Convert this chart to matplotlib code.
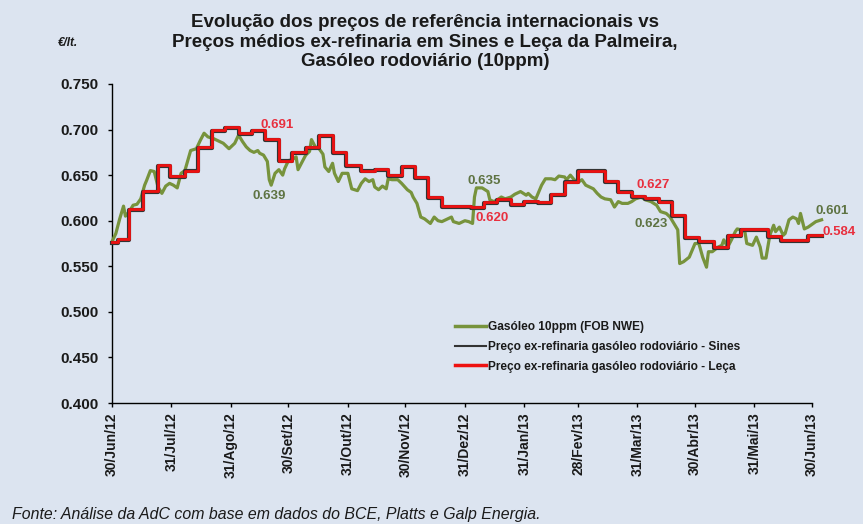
import pandas as pd
import matplotlib
matplotlib.use("Agg")
import matplotlib.pyplot as plt
from matplotlib.lines import Line2D

plt.rcParams["font.family"] = ["Liberation Sans", "DejaVu Sans"]

BG = "#dce4f0"
GREEN = "#77933c"
RED = "#ee1111"
DARK = "#333333"

START = pd.Timestamp("2012-06-30")

# Gasóleo 10ppm (FOB NWE): days after 30/Jun/12, €/lt
green_days = [0, 2, 4, 6, 7, 9, 11, 13, 15, 17, 18, 20, 22, 24, 26, 28, 30, 32, 34, 36,
              38, 41, 44, 46, 48, 50, 53, 56, 58, 61, 62, 64, 66, 68, 70, 72, 74, 76, 77, 79,
              81, 82, 83, 85, 87, 89, 90, 92, 94, 96, 97, 99, 101, 103, 104, 106, 108, 110, 111, 113,
              115, 116, 118, 120, 123, 125, 128, 130, 132, 134, 136, 137, 139, 141, 143, 144, 146, 149, 151, 154,
              156, 157, 159, 161, 163, 166, 168, 170, 172, 175, 177, 178, 181, 184, 186, 188, 189, 190, 193, 196,
              197, 199, 201, 203, 205, 208, 210, 213, 216, 217, 219, 221, 223, 224, 226, 229, 231, 233, 236, 237,
              239, 241, 243, 245, 247, 249, 251, 253, 255, 257, 260, 262, 264, 266, 269, 271, 273, 276, 278, 281,
              284, 286, 289, 291, 293, 295, 296, 298, 301, 304, 306, 308, 310, 311, 313, 316, 318, 319, 321, 323,
              325, 326, 328, 330, 331, 334, 336, 338, 339, 341, 343, 345, 346, 348, 350, 351, 353, 355, 357, 358,
              359, 361, 363, 365, 367, 370]
green_vals = [0.577, 0.586, 0.602, 0.616, 0.605, 0.610, 0.617, 0.618, 0.624, 0.639, 0.644, 0.655, 0.654, 0.637, 0.630, 0.638, 0.641, 0.639, 0.636, 0.652,
              0.655, 0.677, 0.679, 0.688, 0.696, 0.692, 0.690, 0.687, 0.685, 0.679, 0.681, 0.685, 0.694, 0.687, 0.681, 0.677, 0.675, 0.677, 0.674, 0.672,
              0.665, 0.645, 0.639, 0.652, 0.656, 0.650, 0.657, 0.666, 0.667, 0.670, 0.656, 0.664, 0.672, 0.676, 0.689, 0.681, 0.679, 0.673, 0.659, 0.654,
              0.663, 0.652, 0.643, 0.652, 0.652, 0.635, 0.633, 0.641, 0.646, 0.643, 0.645, 0.637, 0.634, 0.638, 0.635, 0.646, 0.645, 0.645, 0.641, 0.634,
              0.631, 0.626, 0.619, 0.604, 0.602, 0.597, 0.604, 0.600, 0.599, 0.602, 0.604, 0.599, 0.597, 0.600, 0.599, 0.597, 0.626, 0.636, 0.636, 0.632,
              0.623, 0.621, 0.623, 0.626, 0.624, 0.626, 0.629, 0.632, 0.628, 0.630, 0.626, 0.624, 0.634, 0.639, 0.646, 0.646, 0.645, 0.649, 0.648, 0.645,
              0.650, 0.645, 0.642, 0.645, 0.639, 0.637, 0.635, 0.630, 0.626, 0.624, 0.623, 0.615, 0.621, 0.619, 0.619, 0.621, 0.624, 0.626, 0.623, 0.621,
              0.617, 0.610, 0.608, 0.604, 0.597, 0.590, 0.553, 0.555, 0.560, 0.575, 0.575, 0.560, 0.549, 0.566, 0.566, 0.571, 0.573, 0.579, 0.571, 0.579,
              0.588, 0.591, 0.590, 0.588, 0.575, 0.573, 0.582, 0.571, 0.559, 0.559, 0.584, 0.595, 0.588, 0.593, 0.584, 0.586, 0.601, 0.604, 0.602, 0.597,
              0.608, 0.591, 0.593, 0.596, 0.599, 0.601]

# weekly ex-refinery prices (value holds from that day on)
step_days = [0, 3, 9, 16, 24, 30, 38, 45, 52, 59, 66, 73, 80, 87, 94, 101, 108, 115, 122, 130,
             137, 144, 151, 158, 165, 172, 187, 194, 201, 208, 215, 222, 229, 236, 243, 257, 264, 271, 278, 285,
             292, 299, 306, 314, 321, 328, 342, 349, 363, 370]
leca_vals = [0.577, 0.580, 0.613, 0.633, 0.661, 0.649, 0.655, 0.681, 0.699, 0.703, 0.696, 0.699, 0.690, 0.666, 0.675, 0.681, 0.694, 0.675, 0.661, 0.655,
             0.657, 0.650, 0.660, 0.648, 0.626, 0.616, 0.615, 0.620, 0.624, 0.618, 0.622, 0.620, 0.629, 0.643, 0.655, 0.644, 0.632, 0.627, 0.625, 0.621,
             0.606, 0.582, 0.578, 0.571, 0.584, 0.591, 0.583, 0.579, 0.584, 0.584]
sines_vals = [0.576, 0.579, 0.612, 0.632, 0.660, 0.648, 0.654, 0.680, 0.698, 0.702, 0.695, 0.698, 0.689, 0.665, 0.674, 0.680, 0.693, 0.674, 0.660, 0.654,
              0.656, 0.649, 0.659, 0.647, 0.625, 0.615, 0.614, 0.619, 0.623, 0.617, 0.621, 0.619, 0.628, 0.642, 0.654, 0.643, 0.631, 0.626, 0.624, 0.620,
              0.605, 0.581, 0.577, 0.570, 0.583, 0.590, 0.582, 0.578, 0.583, 0.583]

tick_dates = ["2012-06-30", "2012-07-31", "2012-08-31", "2012-09-30", "2012-10-31", "2012-11-30", "2012-12-31",
              "2013-01-31", "2013-02-28", "2013-03-31", "2013-04-30", "2013-05-31", "2013-06-30"]
tick_labels = ["30/Jun/12", "31/Jul/12", "31/Ago/12", "30/Set/12", "31/Out/12", "30/Nov/12", "31/Dez/12",
               "31/Jan/13", "28/Fev/13", "31/Mar/13", "30/Abr/13", "31/Mai/13", "30/Jun/13"]

# value labels: (day, y, text, colour key)
labels = [(86, 0.7055, "0.691", "r"), (82, 0.627, "0.639", "g"), (194, 0.644, "0.635", "g"),
          (198, 0.6027, "0.620", "r"), (282, 0.639, "0.627", "r"), (281, 0.596, "0.623", "g"),
          (375.5, 0.611, "0.601", "g"), (379, 0.5874, "0.584", "r")]


def to_dates(days):
    return START + pd.to_timedelta(days, unit="D")


def main():
    fig = plt.figure(figsize=(8.63, 5.24), dpi=100, facecolor=BG)
    ax = fig.add_axes([0.1298, 0.2309, 0.8111, 0.6088])
    ax.set_facecolor(BG)

    gx = to_dates(green_days)
    sx = to_dates(step_days)
    ax.plot(gx, green_vals, color=GREEN, lw=2.3, clip_on=False, zorder=3)
    ax.plot(sx, sines_vals, color=DARK, lw=3.0, drawstyle="steps-post", clip_on=False, zorder=4)
    ax.plot(sx, leca_vals, color=RED, lw=2.0, drawstyle="steps-post", clip_on=False, zorder=5)

    ax.set_xlim(pd.Timestamp(tick_dates[0]), pd.Timestamp(tick_dates[-1]))
    ax.set_ylim(0.4, 0.75)
    ax.set_yticks([0.40, 0.45, 0.50, 0.55, 0.60, 0.65, 0.70, 0.75])
    ax.set_yticklabels([f"{v:.3f}" for v in ax.get_yticks()])
    ax.set_xticks(pd.to_datetime(tick_dates))
    ax.set_xticklabels(tick_labels, rotation=90, ha="center", va="top")

    for s in ["top", "right"]:
        ax.spines[s].set_visible(False)
    for s in ["left", "bottom"]:
        ax.spines[s].set_linewidth(1.0)
        ax.spines[s].set_color("black")
    ax.tick_params(axis="y", direction="out", length=3, width=1, pad=7, labelsize=11)
    ax.tick_params(axis="x", direction="out", length=3, width=1, pad=4, labelsize=10)
    for t in ax.get_xticklabels() + ax.get_yticklabels():
        t.set_fontweight("bold")
        t.set_color("#1a1a1a")

    for d, y, txt, c in labels:
        ax.text(START + pd.Timedelta(days=d), y, txt, ha="center", va="center", fontsize=9.5,
                fontweight="bold", color="#e8303f" if c == "r" else "#5e7342", zorder=6, clip_on=False)

    handles = [Line2D([], [], color=GREEN, lw=2.5),
               Line2D([], [], color=DARK, lw=1.5),
               Line2D([], [], color=RED, lw=2.5)]
    names = ["Gasóleo 10ppm (FOB NWE)",
             "Preço ex-refinaria gasóleo rodoviário - Sines",
             "Preço ex-refinaria gasóleo rodoviário - Leça"]
    leg = ax.legend(handles, names, loc="upper left", bbox_to_anchor=(455 / 863, 1 - 321 / 524),
                    bbox_transform=fig.transFigure, frameon=False, handlelength=2.6, handletextpad=0.15,
                    labelspacing=0.65, borderpad=0, borderaxespad=0,
                    prop={"size": 8.6, "weight": "bold"})
    for t in leg.get_texts():
        t.set_color("#1a1a1a")

    fig.text(425 / 863, 1 - 14 / 524,
             "Evolução dos preços de referência internacionais vs\n"
             "Preços médios ex-refinaria em Sines e Leça da Palmeira,\n"
             "Gasóleo rodoviário (10ppm)",
             ha="center", va="top", fontsize=13.5, fontweight="bold", linespacing=1.2, color="#1a1a1a")
    fig.text(68 / 863, 1 - 43 / 524, "€/lt.", ha="center", va="center", fontsize=8.5,
             style="italic", fontweight="bold", color="#1a1a1a")
    fig.text(12 / 863, 1 - 514 / 524,
             "Fonte: Análise da AdC com base em dados do BCE, Platts e Galp Energia.",
             ha="left", va="center", fontsize=11.4, style="italic", color="#1a1a1a")

    fig.savefig("out.png", dpi=100, facecolor=BG)


if __name__ == "__main__":
    main()
